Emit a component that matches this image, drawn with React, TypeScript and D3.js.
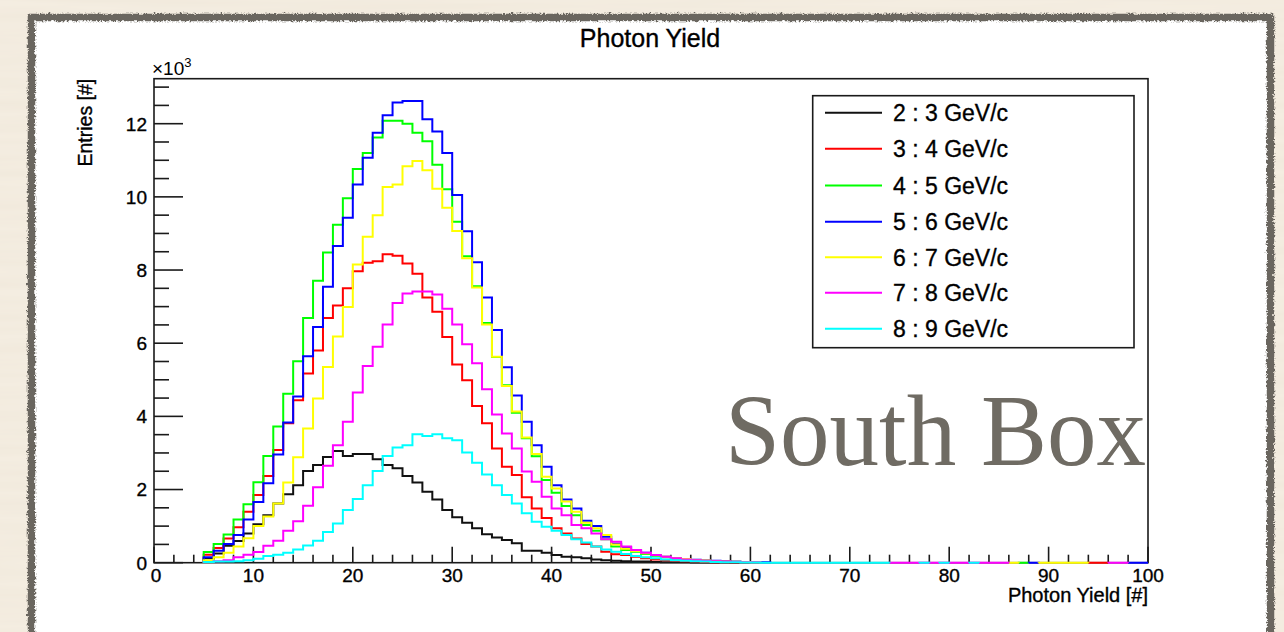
import React from 'react';
import * as d3 from 'd3';

const W = 1284;
const H = 632;

// first filled bin (bin width = 1 photon)
const BIN_START = 5;
// value used for the sparse, nearly empty tail bins (x10^3 entries)
const TAIL_VALUE = 0.002;

const seriesLabels = ['2 : 3 GeV/c', '3 : 4 GeV/c', '4 : 5 GeV/c', '5 : 6 GeV/c', '6 : 7 GeV/c', '7 : 8 GeV/c', '8 : 9 GeV/c'];
const seriesColors = ['#111111', '#ff0000', '#00ff00', '#0000ff', '#ffff00', '#ff00ff', '#00ffff'];

// entries (x10^3) per bin, starting at bin 5
const p2to3 = [0.12, 0.25, 0.46, 0.59, 0.80, 1.05, 1.30, 1.62, 1.87, 2.12, 2.51, 2.67, 2.89, 3.05, 2.92, 2.97, 2.97, 2.83, 2.67, 2.58, 2.37, 2.19, 1.94, 1.73, 1.44, 1.24, 1.09, 0.94, 0.78, 0.69, 0.62, 0.53, 0.33, 0.33, 0.27, 0.21, 0.16, 0.15, 0.12, 0.09, 0.07, 0.05, 0.04, 0.03, 0.03, 0.02, 0.015, 0.01, 0.01, 0.008, 0.005, 0.004, 0.003, 0.002, 0.002];
const p3to4 = [0.22, 0.40, 0.66, 0.97, 1.39, 1.85, 2.37, 3.08, 3.81, 4.44, 5.17, 5.80, 6.69, 7.03, 7.50, 7.97, 8.20, 8.24, 8.43, 8.39, 8.18, 7.90, 7.25, 6.86, 6.17, 5.42, 4.99, 4.28, 3.81, 3.12, 2.62, 2.40, 1.79, 1.48, 1.22, 0.94, 0.80, 0.66, 0.51, 0.44, 0.30, 0.23, 0.21, 0.16, 0.12, 0.09, 0.07, 0.05, 0.04, 0.03, 0.02, 0.015, 0.01, 0.008, 0.005, 0.004];
const p4to5 = [0.29, 0.51, 0.77, 1.18, 1.60, 2.20, 2.92, 3.72, 4.62, 5.51, 6.69, 7.71, 8.48, 9.24, 9.96, 10.76, 11.20, 11.62, 12.08, 12.08, 12.00, 11.75, 11.52, 10.88, 10.21, 9.32, 8.38, 7.56, 6.55, 5.62, 4.85, 4.10, 3.40, 2.91, 2.26, 1.91, 1.55, 1.30, 1.03, 0.87, 0.64, 0.44, 0.35, 0.30, 0.24, 0.19, 0.15, 0.11, 0.09, 0.07, 0.05, 0.04, 0.03, 0.02, 0.015, 0.01];
const p5to6 = [0.15, 0.33, 0.51, 0.76, 1.18, 1.66, 2.17, 2.96, 3.83, 4.54, 5.64, 6.44, 7.54, 8.66, 9.43, 10.34, 11.07, 11.75, 12.23, 12.58, 12.62, 12.62, 12.12, 11.79, 11.20, 10.05, 9.06, 8.21, 7.25, 6.36, 5.34, 4.57, 3.85, 3.21, 2.62, 2.12, 1.73, 1.48, 1.15, 1.00, 0.71, 0.52, 0.42, 0.34, 0.27, 0.21, 0.16, 0.12, 0.10, 0.08, 0.06, 0.05, 0.04, 0.03, 0.02, 0.015, 0.01];
const p6to7 = [0.07, 0.15, 0.27, 0.44, 0.67, 1.00, 1.26, 1.62, 2.19, 2.88, 3.67, 4.49, 5.35, 6.18, 6.99, 8.15, 8.91, 9.50, 10.27, 10.34, 10.84, 10.98, 10.73, 10.22, 9.70, 9.07, 8.32, 7.52, 6.51, 5.63, 4.83, 4.13, 3.42, 2.97, 2.35, 2.03, 1.67, 1.39, 1.09, 0.94, 0.76, 0.50, 0.38, 0.32, 0.26, 0.21, 0.16, 0.12, 0.10, 0.07, 0.06, 0.04, 0.03, 0.025, 0.02, 0.01];
const p7to8 = [0.02, 0.04, 0.07, 0.15, 0.22, 0.29, 0.46, 0.60, 0.87, 1.13, 1.56, 2.06, 2.65, 3.21, 3.85, 4.65, 5.38, 5.90, 6.51, 7.10, 7.36, 7.41, 7.41, 7.33, 6.94, 6.51, 5.97, 5.45, 4.74, 4.05, 3.53, 3.12, 2.49, 2.21, 1.80, 1.48, 1.30, 1.03, 0.94, 0.80, 0.64, 0.57, 0.44, 0.35, 0.27, 0.21, 0.16, 0.12, 0.09, 0.07, 0.05, 0.04, 0.03, 0.02, 0.015, 0.01];
const p8to9 = [0.02, 0.03, 0.03, 0.04, 0.07, 0.11, 0.18, 0.22, 0.27, 0.36, 0.47, 0.60, 0.84, 1.07, 1.44, 1.74, 2.12, 2.51, 2.92, 3.15, 3.21, 3.51, 3.46, 3.51, 3.40, 3.35, 3.01, 2.73, 2.41, 2.12, 1.85, 1.62, 1.35, 1.12, 0.98, 0.87, 0.76, 0.64, 0.55, 0.44, 0.36, 0.30, 0.24, 0.18, 0.15, 0.12, 0.09, 0.07, 0.05, 0.04, 0.03, 0.02, 0.015, 0.01, 0.008, 0.005];

// sparse tail bins holding only a handful of entries
const tail2to3: number[] = [];
const tail3to4 = [94, 95];
const tail4to5 = [87];
const tail5to6 = [88, 98, 99];
const tail6to7 = [86, 89, 90, 91, 92, 93];
const tail7to8 = [74, 75, 76, 77, 78, 79, 80, 81, 82, 83, 84, 85, 96, 97];
const tail8to9 = [61, 62, 63, 64, 65, 66, 67, 68, 69, 70, 71, 72, 73, 77, 79, 82];

const seriesValues = [p2to3, p3to4, p4to5, p5to6, p6to7, p7to8, p8to9];
const seriesTails = [tail2to3, tail3to4, tail4to5, tail5to6, tail6to7, tail7to8, tail8to9];

const xTickLabels = [0, 10, 20, 30, 40, 50, 60, 70, 80, 90, 100];
const yTickLabels = [0, 2, 4, 6, 8, 10, 12];

const SANS = '"Liberation Sans", Arial, Helvetica, sans-serif';

const left = 154;
const right = 1148;
const top = 78.7;
const bottom = 562.7;

const x = d3.scaleLinear().domain([0, 100]).range([left, right]);
const y = d3.scaleLinear().domain([0, 13.23]).range([bottom, top]);

function fullBins(vals: number[], tail: number[]): number[] {
  const bins = new Array(100).fill(0);
  vals.forEach((v, i) => { bins[BIN_START + i] = v; });
  tail.forEach((b) => { bins[b] = TAIL_VALUE; });
  return bins;
}

const stepLine = d3.line<[number, number]>()
  .x((d) => x(d[0]))
  .y((d) => y(d[1]))
  .curve(d3.curveStepAfter);

function histPath(bins: number[]): string {
  let d = '';
  let i = 0;
  while (i < bins.length) {
    if (bins[i] <= 0) { i++; continue; }
    const s = i;
    while (i < bins.length && bins[i] > 0) i++;
    const e = i - 1;
    const pts: [number, number][] = [[s, 0]];
    for (let k = s; k <= e; k++) pts.push([k, bins[k]]);
    pts.push([e + 1, bins[e]]);
    pts.push([e + 1, 0]);
    d += stepLine(pts) || '';
  }
  return d;
}

const textStyle = { stroke: '#000', strokeWidth: 0.35, paintOrder: 'stroke' as const };

export default function App() {
  const hists = seriesValues.map((v, i) => histPath(fullBins(v, seriesTails[i])));
  const yMinor = d3.range(0, 13.01, 0.5);
  const xMinor = d3.range(0, 100.01, 2);
  const axisColor = '#1a1a1a';

  const legendX0 = 812.7;
  const legendY0 = 95.7;
  const legendRows = [112.7, 148.8, 185.5, 221.7, 257.3, 292.8, 328.7];

  return (
    <svg width={W} height={H} viewBox={`0 0 ${W} ${H}`} style={{ position: 'absolute', left: 0, top: 0, display: 'block' }}>
      <defs>
        <filter id="paper" x="0" y="0" width="100%" height="100%">
          <feTurbulence type="fractalNoise" baseFrequency="0.004 0.09" numOctaves={3} seed={7} result="n" />
          <feColorMatrix type="matrix" values="0 0 0 0 0.75  0 0 0 0 0.68  0 0 0 0 0.55  0 0 0 0.3 -0.08" />
        </filter>
        <filter id="rough" x="-2%" y="-2%" width="104%" height="104%">
          <feTurbulence type="turbulence" baseFrequency="0.35" numOctaves={2} seed={3} result="t" />
          <feDisplacementMap in="SourceGraphic" in2="t" scale={4} xChannelSelector="R" yChannelSelector="G" />
        </filter>
        <clipPath id="plotclip">
          <rect x={left} y={top} width={right - left} height={bottom - top + 2} />
        </clipPath>
      </defs>

      {/* paper background */}
      <rect x={0} y={0} width={W} height={H} fill="#f4ede1" />
      <rect x={0} y={0} width={W} height={H} filter="url(#paper)" />

      {/* white canvas with rough gray border */}
      <rect x={31} y={17} width={1238} height={700} fill="#ffffff" />
      <rect x={30.5} y={16.5} width={1239} height={700} fill="none" stroke="#6a665e" strokeWidth={7.5} filter="url(#rough)" />

      {/* title */}
      <text x={650} y={47} textAnchor="middle" fontFamily={SANS} fontSize={25} fill="#000" style={textStyle}>Photon Yield</text>

      {/* first histogram is drawn below the axes */}
      <g clipPath="url(#plotclip)">
        <path d={hists[0]} fill="none" stroke={seriesColors[0]} strokeWidth={2} />
      </g>

      {/* frame */}
      <rect x={left} y={top} width={right - left} height={bottom - top} fill="none" stroke={axisColor} strokeWidth={1.6} />

      {/* y ticks */}
      {yMinor.map((t) => {
        const major = Math.abs(t % 2) < 1e-6;
        return (
          <line key={`yt${t}`} x1={left} x2={left + (major ? 29 : 15)} y1={y(t)} y2={y(t)} stroke={axisColor} strokeWidth={1.6} />
        );
      })}
      {yTickLabels.map((t) => (
        <text key={`yl${t}`} x={147} y={y(t)} dy="0.36em" textAnchor="end" fontFamily={SANS} fontSize={19} fill="#000" style={textStyle}>{t}</text>
      ))}
      <text x={152} y={75} fontFamily={SANS} fontSize={19} fill="#000">
        ×10<tspan dy={-8} fontSize={13}>3</tspan>
      </text>
      <text transform={`translate(92, ${top}) rotate(-90)`} textAnchor="end" fontFamily={SANS} fontSize={19.5} fill="#000" style={textStyle}>Entries [#]</text>

      {/* x ticks */}
      {xMinor.map((t) => {
        const major = Math.abs(t % 10) < 1e-6;
        return (
          <line key={`xt${t}`} x1={x(t)} x2={x(t)} y1={bottom} y2={bottom - (major ? 16 : 8)} stroke={axisColor} strokeWidth={1.6} />
        );
      })}
      {xTickLabels.map((t) => (
        <text key={`xl${t}`} x={x(t) + (t === 0 ? 2 : 0)} y={582} textAnchor="middle" fontFamily={SANS} fontSize={19} fill="#000" style={textStyle}>{t}</text>
      ))}
      <text x={right} y={601.5} textAnchor="end" fontFamily={SANS} fontSize={20} fill="#000" style={textStyle}>Photon Yield [#]</text>

      {/* remaining histograms */}
      <g clipPath="url(#plotclip)">
        {hists.slice(1).map((d, i) => (
          <path key={`h${i}`} d={d} fill="none" stroke={seriesColors[i + 1]} strokeWidth={2} />
        ))}
      </g>

      {/* legend */}
      <rect x={legendX0} y={legendY0} width={1134 - legendX0} height={347.7 - legendY0} fill="#ffffff" stroke={axisColor} strokeWidth={1.6} />
      {seriesLabels.map((lab, i) => (
        <g key={`lg${i}`}>
          <line x1={825} x2={882} y1={legendRows[i]} y2={legendRows[i]} stroke={seriesColors[i]} strokeWidth={2} />
          <text x={893} y={legendRows[i]} dy="0.36em" fontFamily={SANS} fontSize={23} fill="#000" style={textStyle}>{lab}</text>
        </g>
      ))}

      {/* annotation */}
      <text x={725} y={464.5} fontFamily={'"Liberation Serif", "Times New Roman", serif'} fontSize={101} fill="#6f6b63" textLength={421} lengthAdjust="spacingAndGlyphs">South Box</text>
    </svg>
  );
}
